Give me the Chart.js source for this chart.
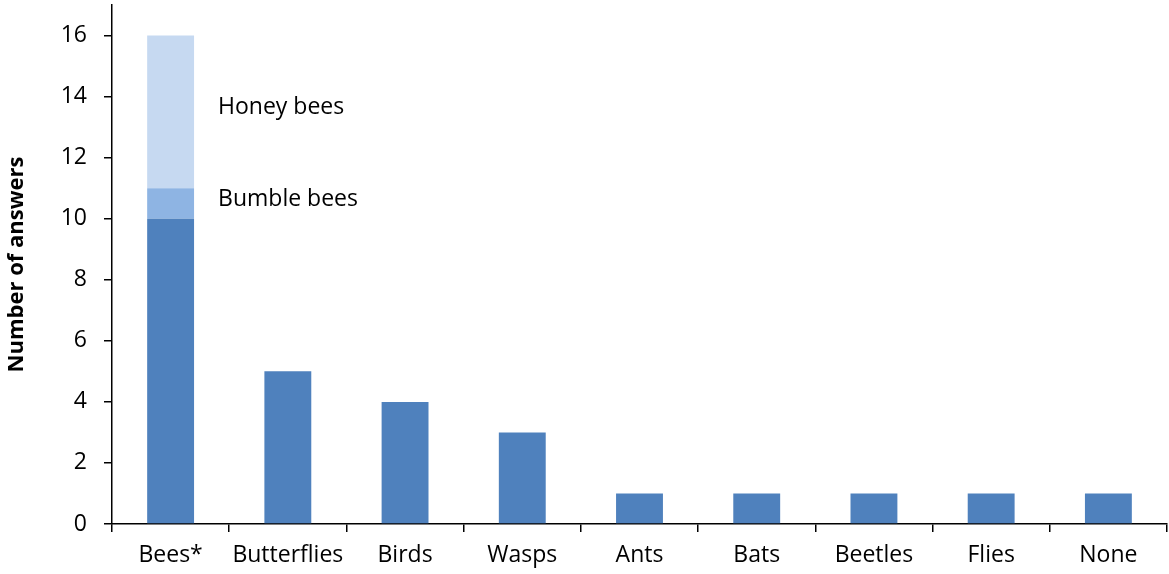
<!DOCTYPE html>
<html>
<head>
<meta charset="utf-8">
<script src="https://cdn.jsdelivr.net/npm/chart.js@4/dist/chart.umd.min.js"></script>
<style>
html,body{margin:0;padding:0;background:#fff;}
#wrap{width:1169px;height:574px;position:relative;}
</style>
</head>
<body>
<div id="wrap"><canvas id="c" width="1169" height="574"></canvas></div>
<script>
const categories = ["Bees*", "Butterflies", "Birds", "Wasps", "Ants", "Bats", "Beetles", "Flies", "None"];
const otherValues = [10, 5, 4, 3, 1, 1, 1, 1, 1];
const bumbleValues = [1, 0, 0, 0, 0, 0, 0, 0, 0];
const honeyValues = [5, 0, 0, 0, 0, 0, 0, 0, 0];
const segmentLabels = ["", "Bumble bees", "Honey bees"];
const yTitle = "Number of answers";

const FONT = "'Open Sans', Lato, sans-serif";

const segLabelPlugin = {
  id: 'segLabels',
  afterDatasetsDraw(chart) {
    const ctx = chart.ctx;
    ctx.save();
    ctx.font = "23px " + FONT;
    ctx.fillStyle = "#000";
    ctx.textBaseline = "middle";
    ctx.textAlign = "left";
    chart.data.datasets.forEach((ds, i) => {
      const lbl = segmentLabels[i];
      if (!lbl) return;
      const meta = chart.getDatasetMeta(i);
      const el = meta.data[0];
      const props = el.getProps(['x', 'y', 'base', 'width'], true);
      const ymid = (props.y + props.base) / 2 - 4;
      ctx.fillText(lbl, props.x + props.width / 2 + 24, ymid);
    });
    ctx.restore();
  }
};

new Chart(document.getElementById('c'), {
  type: 'bar',
  data: {
    labels: categories,
    datasets: [
      { label: 'Other', data: otherValues, backgroundColor: '#4F81BD' },
      { label: 'Bumble bees', data: bumbleValues, backgroundColor: '#8EB4E3' },
      { label: 'Honey bees', data: honeyValues, backgroundColor: '#C6D9F1' }
    ]
  },
  options: {
    responsive: false,
    animation: false,
    devicePixelRatio: 1,
    layout: { padding: { top: 5, right: 2, left: 4, bottom: 0 } },
    datasets: { bar: { categoryPercentage: 1.0, barPercentage: 0.4, borderWidth: 0 } },
    plugins: { legend: { display: false }, tooltip: { enabled: false } },
    scales: {
      x: {
        stacked: true,
        offset: true,
        grid: { display: true, offset: true, drawOnChartArea: false, drawTicks: true, tickLength: 8, color: '#000', lineWidth: 1.5 },
        border: { display: true, color: '#000', width: 1.5 },
        ticks: { color: '#000', font: { family: FONT, size: 23 }, padding: 10, maxRotation: 0, autoSkip: false },
        afterFit(s) { s.height = 50; s.paddingLeft = 0; s.paddingRight = 0; }
      },
      y: {
        stacked: true,
        min: 0,
        max: 17,
        grid: { display: true, drawOnChartArea: false, drawTicks: true, tickLength: 8, color: '#000', lineWidth: 1.5 },
        border: { display: true, color: '#000', width: 1.5 },
        ticks: { stepSize: 2, includeBounds: false, color: '#000', font: { family: FONT, size: 23 }, padding: 17 },
        title: { display: true, text: yTitle, color: '#000', font: { family: FONT, size: 22, weight: 'bold' }, padding: { top: 0, bottom: 0 } },
        afterFit(s) { s.width = 108; s.paddingTop = 0; s.paddingBottom = 0; }
      }
    }
  },
  plugins: [segLabelPlugin]
});
</script>
</body>
</html>
